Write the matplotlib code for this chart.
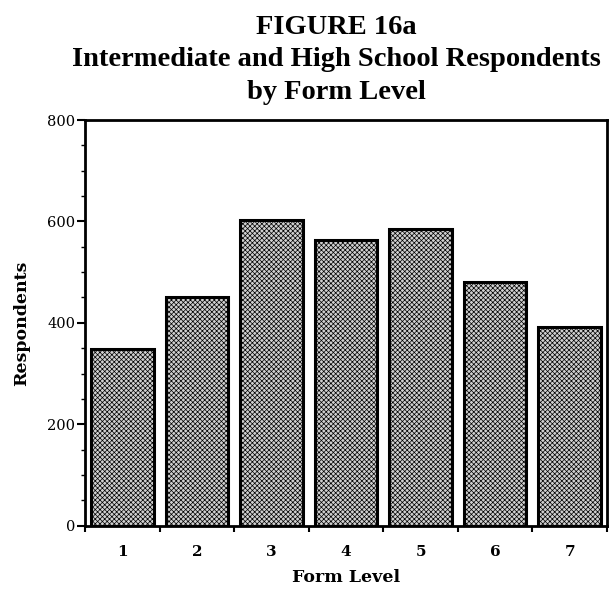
import matplotlib
matplotlib.use("Agg")
import matplotlib.pyplot as plt
from matplotlib.ticker import MultipleLocator, FixedLocator

categories = ["1", "2", "3", "4", "5", "6", "7"]
respondents = [348, 451, 603, 563, 585, 480, 392]
yticks = [0, 200, 400, 600, 800]

title_lines = ["FIGURE 16a", "Intermediate and High School Respondents", "by Form Level"]
xlabel = "Form Level"
ylabel = "Respondents"

plt.rcParams['font.family'] = ['Liberation Serif', 'DejaVu Serif']
plt.rcParams['hatch.color'] = '#3a3a3a'
plt.rcParams['hatch.linewidth'] = 0.5

W, H = 610, 590
fig = plt.figure(figsize=(6.1, 5.9), dpi=100)
ax = fig.add_axes([0.1393, 0.109, 0.8557, 0.6876])

x = list(range(len(categories)))
ax.bar(x, respondents, width=0.84, color='#d0d0d0', edgecolor='black',
       linewidth=2.2, hatch='xxxxxxx', zorder=2)

ax.set_xlim(-0.5, len(categories) - 0.5)
ax.set_ylim(0, 800)
ax.set_xticks(x)
ax.set_xticklabels(categories, fontsize=11, fontweight='bold', family='DejaVu Serif')
ax.xaxis.set_minor_locator(FixedLocator([i + 0.5 for i in range(-1, len(categories))]))
ax.tick_params(axis='x', which='major', length=0, pad=14)
ax.tick_params(axis='x', which='minor', length=4, width=1.5, direction='out')

ax.set_yticks(yticks)
ax.set_yticklabels([str(v) for v in yticks], fontsize=10.5, family='DejaVu Serif')
ax.yaxis.set_minor_locator(MultipleLocator(50))
ax.tick_params(axis='y', which='major', length=6, width=1.5, direction='out', pad=1)
ax.tick_params(axis='y', which='minor', length=3, width=1, direction='out')

for s in ax.spines.values():
    s.set_linewidth(2)

ax.set_xlabel(xlabel, fontsize=12.5, fontweight='bold', family='DejaVu Serif', labelpad=7)
ax.set_ylabel(ylabel, fontsize=12.5, fontweight='bold', family='DejaVu Serif', labelpad=12)

baselines_px = [34, 66, 99]
for line, yb in zip(title_lines, baselines_px):
    fig.text(336 / W, 1 - yb / H, line, ha='center', va='baseline',
             fontsize=20.5, fontweight='bold')

fig.savefig("out.png", dpi=100)
